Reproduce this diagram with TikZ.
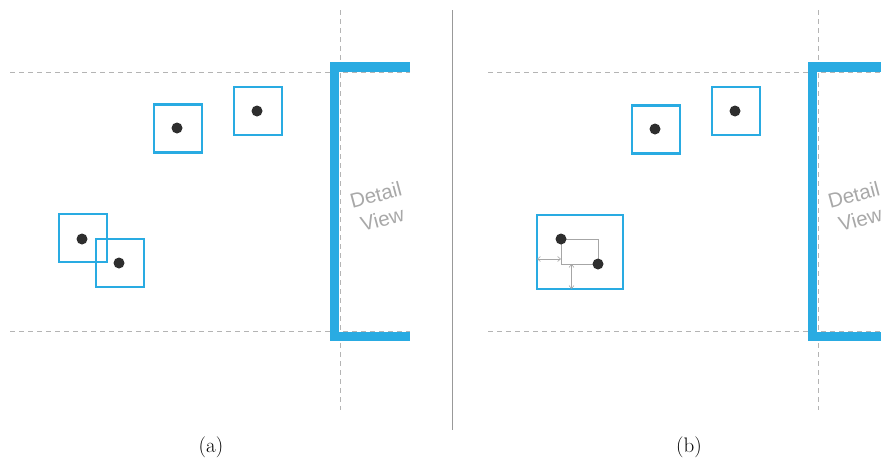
\documentclass[tikz,border=0pt]{standalone}
\usepackage{fontspec}
\newfontfamily\labelsans{Liberation Sans}
\usetikzlibrary{arrows.meta}
\definecolor{cyanblue}{HTML}{29ABE2}
\definecolor{dashgray}{HTML}{B4B4B4}
\definecolor{dotgray}{HTML}{2E2E2E}
\definecolor{textgray}{HTML}{A8A8A8}
\tikzset{
  guide/.style={draw=dashgray, line width=1pt, dash pattern=on 5pt off 4pt},
  selbox/.style={draw=cyanblue, line width=2.2pt, minimum width=48pt, minimum height=48pt, inner sep=0pt},
  pt/.style={circle, fill=dotgray, minimum size=11pt, inner sep=0pt},
  bracket/.style={draw=cyanblue, line width=9.5pt},
  measure/.style={draw=gray!70, line width=0.6pt},
  marrow/.style={measure, {Straight Barb[length=3pt,width=5pt]}-{Straight Barb[length=3pt,width=5pt]}},
  detail/.style={text=textgray, font=\labelsans\fontsize{20.5pt}{25pt}\selectfont, rotate=15, align=center},
  sublabel/.style={font=\fontsize{21pt}{24pt}\selectfont}
}
\begin{document}
\begin{tikzpicture}[x=1pt, y=-1pt]
\useasboundingbox (0,0) rectangle (881,461);
% separator
\draw[gray!80, line width=0.8pt] (452,10) -- (452,430);

% ---------- panel (a)
\draw[guide] (10,72) -- (410,72);
\draw[guide] (10,331) -- (410,331);
\draw[guide] (340,10) -- (340,410);
\draw[bracket] (410,67) -- (334.5,67) -- (334.5,336.5) -- (410,336.5);
\node[detail] (dva) at (379,207) {Detail\\View};

\node[selbox] (a1) at (178,128.5) {};
\node[selbox] (a2) at (258,111) {};
\node[selbox] (a3) at (83,238) {};
\node[selbox] (a4) at (120,263) {};
\node[pt] (pa1) at (177,128) {};
\node[pt] (pa2) at (257,111) {};
\node[pt] (pa3) at (82,239) {};
\node[pt] (pa4) at (119,263) {};
\node[sublabel] (capa) at (211,447) {(a)};

% ---------- panel (b)
\draw[guide] (488,72) -- (881,72);
\draw[guide] (488,331) -- (881,331);
\draw[guide] (818,10) -- (818,410);
\draw[bracket] (881,67) -- (812.5,67) -- (812.5,336.5) -- (881,336.5);
\node[detail] (dvb) at (857,207) {Detail\\View};

\node[selbox] (b1) at (656,129.5) {};
\node[selbox] (b2) at (736,111) {};
\node[selbox, minimum width=86pt, minimum height=74pt] (b3) at (580,252) {};
\coordinate (q1) at (561,239);
\coordinate (q2) at (598,264);
\draw[measure] (q1) rectangle (q2);
\coordinate (hl) at (537,259);
\coordinate (hr) at (561,259);
\draw[marrow] (hl) -- (hr);
\coordinate (vt) at (571.5,264);
\coordinate (vb) at (571.5,289);
\draw[marrow] (vt) -- (vb);
\node[pt] (pb3) at (q1) {};
\node[pt] (pb4) at (q2) {};
\node[pt] (pb1) at (655,129) {};
\node[pt] (pb2) at (735,111) {};
\node[sublabel] (capb) at (689,447) {(b)};
\end{tikzpicture}
\end{document}
